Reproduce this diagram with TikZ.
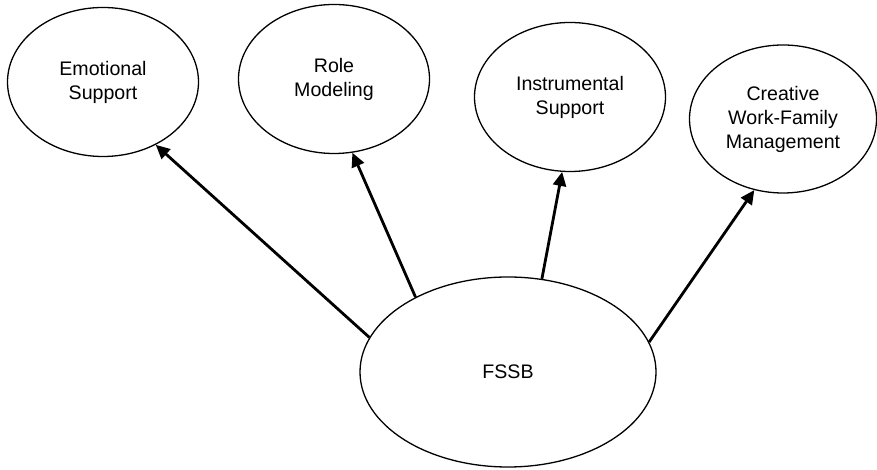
\documentclass[tikz,border=0pt]{standalone}
\usepackage{fontspec}
\setmainfont{Liberation Sans}
\usepackage{tikz}
\usetikzlibrary{arrows.meta,shapes.geometric}

\begin{document}
\begin{tikzpicture}[x=1pt,y=1pt,
  bubble/.style={ellipse,draw,line width=1.3pt,inner sep=0pt,align=center,
    font=\fontsize{19.6}{24}\selectfont},
  link/.style={line width=2.8pt,-{Triangle[length=14pt,width=13pt]}}]
\useasboundingbox (0,0) rectangle (877,470);
\node[bubble,minimum width=191pt,minimum height=149pt] (E) at (103,388) {Emotional\\Support};
\node[bubble,minimum width=191pt,minimum height=149pt] (R) at (334,391) {Role\\Modeling};
\node[bubble,minimum width=191pt,minimum height=149pt] (I) at (570,373) {Instrumental\\Support};
\node[bubble,minimum width=187pt,minimum height=148pt] (C) at (783,351) {Creative\\Work-Family\\Management};
\node[bubble,minimum width=296pt,minimum height=190pt] (F) at (508,98) {FSSB};
\draw[link] (F.166) -- (E.-50);
\draw[link] (F.141.5) -- (R.-76.3);
\draw[link] (F.70) -- (I.-96);
\draw[link] (F.12) -- (C.-112);
\end{tikzpicture}
\end{document}
